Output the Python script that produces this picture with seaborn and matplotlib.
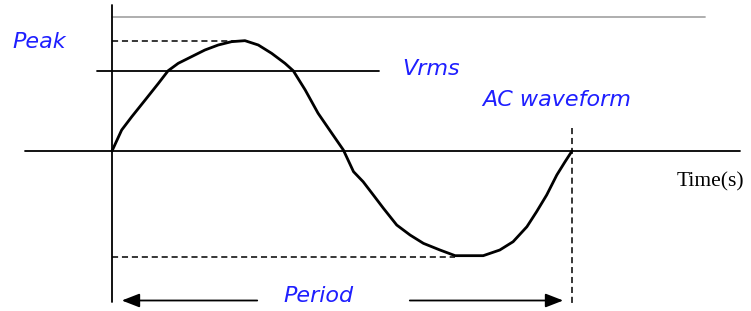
import matplotlib
matplotlib.use("Agg")
import matplotlib.pyplot as plt
import seaborn as sns
import pandas as pd

# ---- data (time in periods, voltage relative to peak) ----
wave_t = [0.0, 0.021, 0.043, 0.072, 0.101, 0.122, 0.144, 0.173, 0.202, 0.231,
          0.260, 0.289, 0.318, 0.347, 0.376, 0.394, 0.420, 0.448, 0.478, 0.503,
          0.525, 0.546, 0.568, 0.590, 0.619, 0.648, 0.677, 0.713, 0.746, 0.807,
          0.843, 0.872, 0.902, 0.923, 0.945, 0.967, 0.985, 1.0]
wave_v = [0.0, 0.189, 0.309, 0.459, 0.610, 0.723, 0.790, 0.850, 0.910, 0.955,
          0.985, 0.994, 0.955, 0.880, 0.790, 0.723, 0.550, 0.340, 0.159, 0.009,
          -0.186, -0.277, -0.396, -0.516, -0.667, -0.757, -0.832, -0.892, -0.943, -0.943,
          -0.892, -0.817, -0.682, -0.547, -0.396, -0.216, -0.096, 0.0]
peak_v = 0.994
trough_v = -0.955
vrms_v = 0.72
period = 1.0
labels = ["Peak", "Vrms", "AC waveform", "Period", "Time(s)"]

df = pd.DataFrame({"t": wave_t, "v": wave_v})

sns.set_theme(style="white")
fig = plt.figure(figsize=(7.51, 3.11), dpi=100)
ax = fig.add_axes([0, 0, 1, 1])
ax.set_axis_off()

# pixel -> data helpers for layout (x: 460 px per period, y: 111 px per unit)
PX, PY, X0, Y0 = 460.0, 111.0, 112.0, 151.0
def dx(px): return (px - X0) / PX
def dy(py): return (Y0 - py) / PY

ax.set_xlim(dx(0), dx(751))
ax.set_ylim(dy(311), dy(0))

blue = "#1f1fff"
hand = dict(color=blue, fontstyle="italic", family="DejaVu Sans", fontsize=16)

# axes
ax.plot([dx(112), dx(705)], [dy(16.5), dy(16.5)], color="#a8a8a8", lw=1.3)
ax.plot([0, 0], [dy(5), dy(302)], color="black", lw=1.3)
ax.plot([dx(25), dx(740)], [0, 0], color="black", lw=1.3)

# guide lines
dash = (0, (4, 2.5))
ax.plot([0, dx(248)], [peak_v, peak_v], color="black", lw=1.1, ls=dash)
ax.plot([dx(97), dx(379)], [vrms_v, vrms_v], color="black", lw=1.3)
ax.plot([0, dx(455)], [trough_v, trough_v], color="black", lw=1.1, ls=dash)
ax.plot([period, period], [dy(128), dy(306)], color="black", lw=1.1, ls=dash)

# waveform
sns.lineplot(data=df, x="t", y="v", sort=False, color="black", lw=2.0, ax=ax)

# period arrows
arr = dict(arrowstyle="-|>,head_length=0.9,head_width=0.35", color="black", lw=1.3)
ax.annotate("", xy=(dx(119), dy(300.5)), xytext=(dx(260), dy(300.5)), arrowprops=arr)
ax.annotate("", xy=(dx(566), dy(300.5)), xytext=(dx(407), dy(300.5)), arrowprops=arr)

# text
ax.text(dx(12), dy(42), labels[0], ha="left", va="center", **hand)
ax.text(dx(402), dy(69), labels[1], ha="left", va="center", **hand)
ax.text(dx(482), dy(100), labels[2], ha="left", va="center", **hand)
ax.text(dx(318), dy(296), labels[3], ha="center", va="center", **hand)
ax.text(dx(677), dy(182), labels[4], ha="left", va="center", color="black",
        family="Liberation Serif", fontsize=15.5)

if ax.get_legend() is not None:
    ax.get_legend().remove()
ax.set_xlabel("")
ax.set_ylabel("")
fig.savefig("out.png", dpi=100, facecolor="white")
